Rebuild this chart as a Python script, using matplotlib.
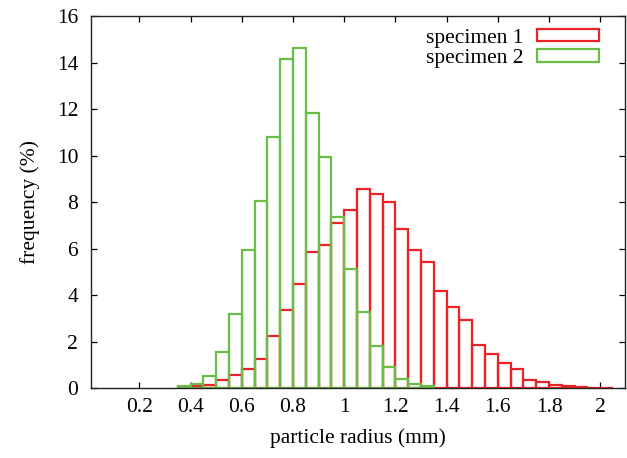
import matplotlib
matplotlib.use('Agg')
import matplotlib.pyplot as plt
from matplotlib.patches import Rectangle
from matplotlib.ticker import FuncFormatter
import numpy as np

# bin left edges (mm), width 0.05
bin_left = [0.35, 0.40, 0.45, 0.50, 0.55, 0.60, 0.65, 0.70, 0.75, 0.80,
            0.85, 0.90, 0.95, 1.00, 1.05, 1.10, 1.15, 1.20, 1.25, 1.30,
            1.35, 1.40, 1.45, 1.50, 1.55, 1.60, 1.65, 1.70, 1.75, 1.80,
            1.85, 1.90, 1.95, 2.00]
bin_width = 0.05

specimen1 = [0.03, 0.10, 0.15, 0.36, 0.57, 0.80, 1.26, 2.24, 3.37, 4.47,
             5.85, 6.15, 7.08, 7.66, 8.55, 8.33, 7.98, 6.84, 5.92, 5.43,
             4.19, 3.48, 2.92, 1.85, 1.46, 1.06, 0.80, 0.34, 0.27, 0.14,
             0.09, 0.06, 0.00, 0.02]
specimen2 = [0.09, 0.17, 0.53, 1.53, 3.18, 5.94, 8.06, 10.81, 14.16, 14.61,
             11.84, 9.95, 7.37, 5.13, 3.26, 1.82, 0.89, 0.40, 0.19, 0.07]

x_ticks = [0.2, 0.4, 0.6, 0.8, 1.0, 1.2, 1.4, 1.6, 1.8, 2.0]
y_ticks = [0, 2, 4, 6, 8, 10, 12, 14, 16]

red = '#ec2228'
green = '#6abd45'
fs = 15.5

plt.rcParams['font.family'] = ['Liberation Serif', 'DejaVu Serif']
plt.rcParams['font.size'] = fs

fig = plt.figure(figsize=(6.27, 4.58), dpi=100)
ax = fig.add_axes([0.1447, 0.1528, 0.9968 - 0.1447, 0.965 - 0.1528])

ax.bar(bin_left, specimen1, width=bin_width, align='edge', fill=False,
       edgecolor=red, linewidth=1.6, zorder=2)
ax.bar(bin_left[:len(specimen2)], specimen2, width=bin_width, align='edge',
       fill=False, edgecolor=green, linewidth=1.6, zorder=3)

ax.set_xlim(0.0102, 2.0965)
ax.set_ylim(0, 16)
ax.set_xticks(x_ticks)
ax.set_yticks(y_ticks)
ax.xaxis.set_major_formatter(FuncFormatter(lambda v, p: '%g' % round(v, 2)))
ax.tick_params(direction='in', top=True, right=True, length=4.5, width=0.9,
               labelsize=fs)
ax.tick_params(axis='x', pad=7)
ax.tick_params(axis='y', pad=9)
for s in ax.spines.values():
    s.set_linewidth(1.0)
    s.set_color('#222222')
    s.set_zorder(4)

ax.set_xlabel('particle radius (mm)', fontsize=fs, labelpad=8)
ax.set_ylabel('frequency (%)', fontsize=fs, labelpad=12)

handles = [Rectangle((0, 0), 1, 1, fill=False, edgecolor=red, linewidth=1.6),
           Rectangle((0, 0), 1, 1, fill=False, edgecolor=green, linewidth=1.6)]
ax.legend(handles, ['specimen 1', 'specimen 2'], loc='upper right',
          frameon=False, markerfirst=False, handlelength=2.85,
          handleheight=0.5, handletextpad=0.65, labelspacing=0.05,
          borderaxespad=0.2, fontsize=fs, bbox_to_anchor=(0.975, 1.0))

fig.savefig('out.png', dpi=100)
